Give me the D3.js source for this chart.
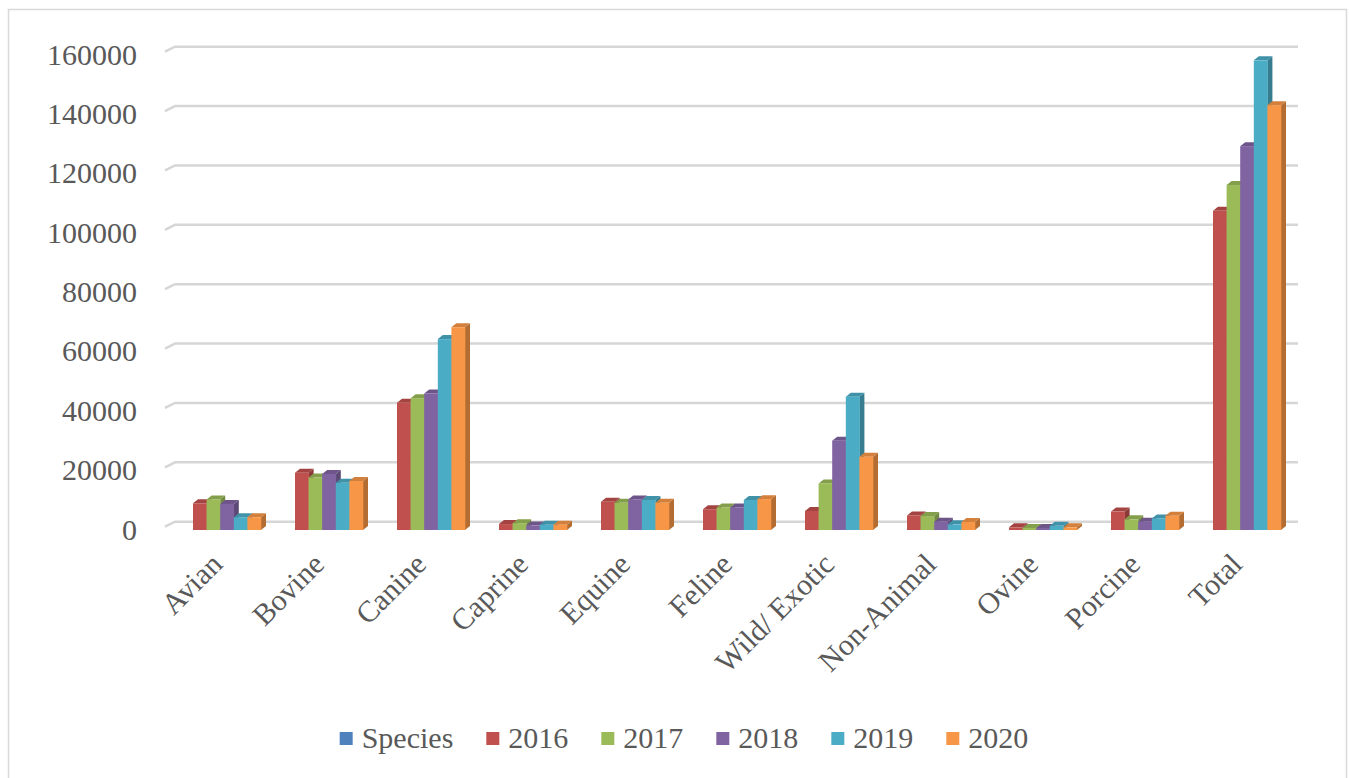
<!DOCTYPE html>
<html>
<head>
<meta charset="utf-8">
<script src="https://cdn.jsdelivr.net/npm/d3@7"></script>
<style>
  body { margin: 0; background: #fff; }
  svg text { font-family: "Liberation Serif", "Times New Roman", serif; fill: #595959; }
</style>
</head>
<body>
<svg id="chart" width="1349" height="778"></svg>
<script>
// categories + series
const categories = ["Avian", "Bovine", "Canine", "Caprine", "Equine", "Feline", "Wild/ Exotic", "Non-Animal", "Ovine", "Porcine", "Total"];
const seriesNames = ["Species", "2016", "2017", "2018", "2019", "2020"];
const yearNames = ["2016", "2017", "2018", "2019", "2020"];
const values2016 = [9000, 19300, 42900, 2000, 9500, 7000, 6400, 4900, 900, 6200, 107500];
const values2017 = [10300, 17700, 44400, 2300, 9200, 7600, 15700, 4700, 700, 3600, 116200];
const values2018 = [8800, 18900, 46000, 1500, 10300, 7600, 30100, 2800, 700, 2800, 129300];
const values2019 = [4300, 15900, 64300, 1800, 10100, 10100, 44900, 1900, 1400, 3900, 158200];
const values2020 = [4300, 16500, 68300, 1800, 9200, 10400, 24700, 2700, 900, 4800, 143100];
const yTicks = [0, 20000, 40000, 60000, 80000, 100000, 120000, 140000, 160000];
const colors = ["#4F81BD", "#C0504D", "#9BBB59", "#8064A2", "#4BACC6", "#F79646"];

const yearValues = [values2016, values2017, values2018, values2019, values2020];

const svg = d3.select("#chart");

// outer chart border
svg.append("rect")
    .attr("x", 8.5).attr("y", 9.5)
    .attr("width", 1338).attr("height", 790)
    .attr("fill", "none").attr("stroke", "#d9d9d9").attr("stroke-width", 1.5);

const x = d3.scaleBand()
    .domain(categories)
    .range([176, 1298])
    .paddingInner(1 / 3)
    .paddingOuter(1 / 6);

const xs = d3.scaleBand()
    .domain(yearNames)
    .range([0, x.bandwidth()])
    .padding(0);

const y = d3.scaleLinear().domain([0, 160000]).range([530, 55]);

// 3d offsets
const wallDx = 10, wallDy = -8.3;
const barDx = 5, barDy = -4;

// gridlines on the back wall, with the slanted bit on the left side wall
const grid = svg.append("g");
grid.selectAll("path")
    .data(yTicks)
    .enter().append("path")
    .attr("d", d => `M165,${y(d) - 3.3} L${165 + wallDx},${y(d) + wallDy} L1298,${y(d) + wallDy}`)
    .attr("fill", "none")
    .attr("stroke", "#d6d6d6")
    .attr("stroke-width", 2.5);

// y labels
svg.append("g").selectAll("text")
    .data(yTicks)
    .enter().append("text")
    .attr("x", 137)
    .attr("y", d => y(d) - 1)
    .attr("dy", "0.35em")
    .attr("text-anchor", "end")
    .style("font-size", "30px")
    .text(d => d);

// bars, drawn left to right so each front face covers the previous side
const bars = [];
categories.forEach((c, i) => {
    yearNames.forEach((yr, j) => {
        bars.push({ cat: c, year: yr, value: yearValues[j][i], color: colors[j + 1] });
    });
});

const w = xs.bandwidth();
const g = svg.append("g");
const bar = g.selectAll("g.bar")
    .data(bars)
    .enter().append("g")
    .attr("class", "bar");

bar.append("path") // side
    .attr("d", d => {
        const x0 = x(d.cat) + xs(d.year) + w, y0 = y(0), y1 = y(d.value);
        return `M${x0},${y1} L${x0 + barDx},${y1 + barDy} L${x0 + barDx},${y0 + barDy} L${x0},${y0} Z`;
    })
    .attr("fill", d => d3.color(d.color).darker(0.9));

bar.append("path") // top
    .attr("d", d => {
        const x0 = x(d.cat) + xs(d.year), y1 = y(d.value);
        return `M${x0},${y1} L${x0 + barDx},${y1 + barDy} L${x0 + w + barDx},${y1 + barDy} L${x0 + w},${y1} Z`;
    })
    .attr("fill", d => d3.color(d.color).darker(0.45));

bar.append("rect") // front
    .attr("x", d => x(d.cat) + xs(d.year))
    .attr("y", d => y(d.value))
    .attr("width", w + 0.3)
    .attr("height", d => y(0) - y(d.value))
    .attr("fill", d => d.color);

// category labels, rotated
svg.append("g").selectAll("text")
    .data(categories)
    .enter().append("text")
    .attr("transform", d => `translate(${x(d) + x.bandwidth() / 2 - 3},566) rotate(-45)`)
    .attr("text-anchor", "end")
    .style("font-size", "30px")
    .text(d => d);

// legend
const legend = svg.append("g").attr("transform", "translate(0,748)");
const items = legend.selectAll("g")
    .data(seriesNames)
    .enter().append("g");
items.append("rect")
    .attr("y", -16)
    .attr("width", 13).attr("height", 13)
    .attr("fill", (d, i) => colors[i]);
items.append("text")
    .attr("x", 22)
    .style("font-size", "30px")
    .text(d => d);

let cursor = 0;
const widths = [];
items.each(function() {
    const tw = d3.select(this).select("text").node().getComputedTextLength();
    widths.push(22 + tw);
});
const gap = 33;
const totalW = d3.sum(widths) + gap * (widths.length - 1);
cursor = 684 - totalW / 2;
items.attr("transform", (d, i) => {
    const t = `translate(${cursor},0)`;
    cursor += widths[i] + gap;
    return t;
});
</script>
</body>
</html>
